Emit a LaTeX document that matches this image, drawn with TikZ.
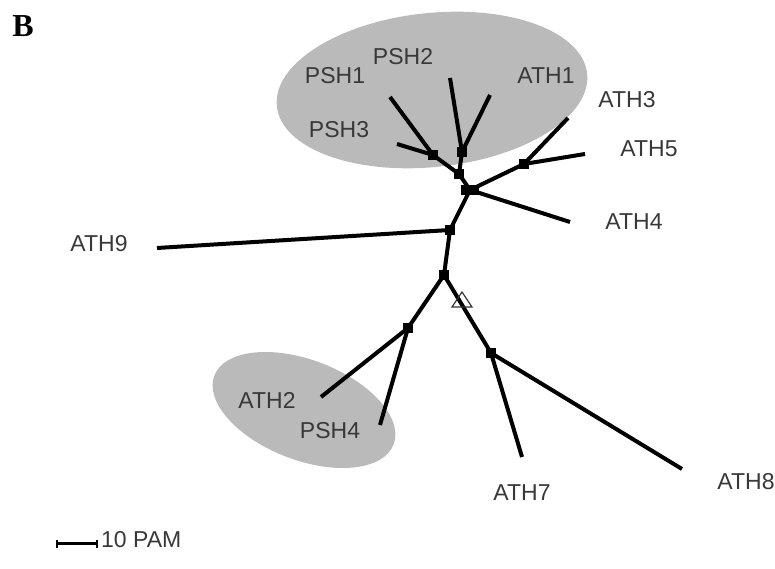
\documentclass[tikz,border=0pt]{standalone}
\usepackage{fontspec}
\setmainfont{Liberation Sans}
\newfontfamily\panelfont{Liberation Serif}
\begin{document}
\begin{tikzpicture}[x=1pt,y=1pt,
  branch/.style={line width=4pt,black},
  hub/.style={fill=black,inner sep=0pt,minimum size=10pt,rectangle},
  taxon/.style={text=black!78,font=\fontsize{23}{25}\selectfont,inner sep=0pt},
  cluster/.style={fill=black!27,draw=none}]
\useasboundingbox (0,0) rectangle (775,569);

% shaded clusters
\fill[cluster,rotate around={6:(432,479)}] (432,479) ellipse [x radius=156,y radius=77];
\fill[cluster,rotate around={-21:(304,159)}] (304,159) ellipse [x radius=96,y radius=50];

% branch tips
\coordinate (tPSH1) at (390,472);
\coordinate (tPSH3) at (397,425);
\coordinate (tPSH2) at (450,491);
\coordinate (tATH1) at (490,474);
\coordinate (tATH3) at (568,451);
\coordinate (tATH5) at (585,415);
\coordinate (tATH4) at (570,347);
\coordinate (tATH9) at (157,321);
\coordinate (tATH2) at (321,172);
\coordinate (tPSH4) at (380,144);
\coordinate (tATH7) at (522,112);
\coordinate (tATH8) at (682,100);

% internal nodes
\coordinate (n13) at (433,414);
\coordinate (n2A) at (462,417);
\coordinate (nP) at (459,395);
\coordinate (nC) at (470,379);
\coordinate (n35) at (524,405);
\coordinate (n9) at (450,339);
\coordinate (nr) at (444,294);
\coordinate (nL) at (408,241);
\coordinate (nR) at (491,216);

% branches
\draw[branch] (n13) -- (tPSH1);
\draw[branch] (n13) -- (tPSH3);
\draw[branch] (n13) -- (nP);
\draw[branch] (n2A) -- (tPSH2);
\draw[branch] (n2A) -- (tATH1);
\draw[branch] (n2A) -- (nP);
\draw[branch] (nP) -- (nC);
\draw[branch] (nC) -- (n35);
\draw[branch] (n35) -- (tATH3);
\draw[branch] (n35) -- (tATH5);
\draw[branch] (nC) -- (tATH4);
\draw[branch] (nC) -- (n9);
\draw[branch] (n9) -- (tATH9);
\draw[branch] (n9) -- (nr);
\draw[branch] (nr) -- (nL);
\draw[branch] (nL) -- (tATH2);
\draw[branch] (nL) -- (tPSH4);
\draw[branch] (nr) -- (nR);
\draw[branch] (nR) -- (tATH7);
\draw[branch] (nR) -- (tATH8);

% node markers
\foreach \p in {n13,n2A,nP,n35,n9,nr,nL,nR}
  \node[hub] at (\p) {};
\node[hub,minimum width=18pt,minimum height=10pt] (hubC) at (nC) {};

% root marker
\draw[line width=1.2pt,black!80,line join=miter] (452,262) -- (472,262) -- (462,277) -- cycle;

% taxon labels
\node[taxon] (lPSH1) at (335,493) {PSH1};
\node[taxon] (lPSH2) at (403,512) {PSH2};
\node[taxon] (lPSH3) at (339,439) {PSH3};
\node[taxon] (lATH1) at (546,493) {ATH1};
\node[taxon] (lATH3) at (627,469) {ATH3};
\node[taxon] (lATH5) at (649,420) {ATH5};
\node[taxon] (lATH4) at (634,347) {ATH4};
\node[taxon] (lATH9) at (99,325) {ATH9};
\node[taxon] (lATH2) at (267,169) {ATH2};
\node[taxon] (lPSH4) at (330,138) {PSH4};
\node[taxon] (lATH7) at (522,76) {ATH7};
\node[taxon] (lATH8) at (746,87) {ATH8};

% panel letter
\node[font=\panelfont\bfseries\fontsize{32}{34}\selectfont,inner sep=0pt] (panel) at (23,543) {B};

% scale bar
\coordinate (sb1) at (57,25);
\coordinate (sb2) at (97,25);
\draw[line width=3pt] (sb1) -- (sb2);
\draw[line width=1.5pt] ([yshift=-4pt]sb1) -- ([yshift=4pt]sb1);
\draw[line width=1.5pt] ([yshift=-4pt]sb2) -- ([yshift=4pt]sb2);
\node[taxon,anchor=west] (sblabel) at (101,29) {10 PAM};
\end{tikzpicture}
\end{document}
